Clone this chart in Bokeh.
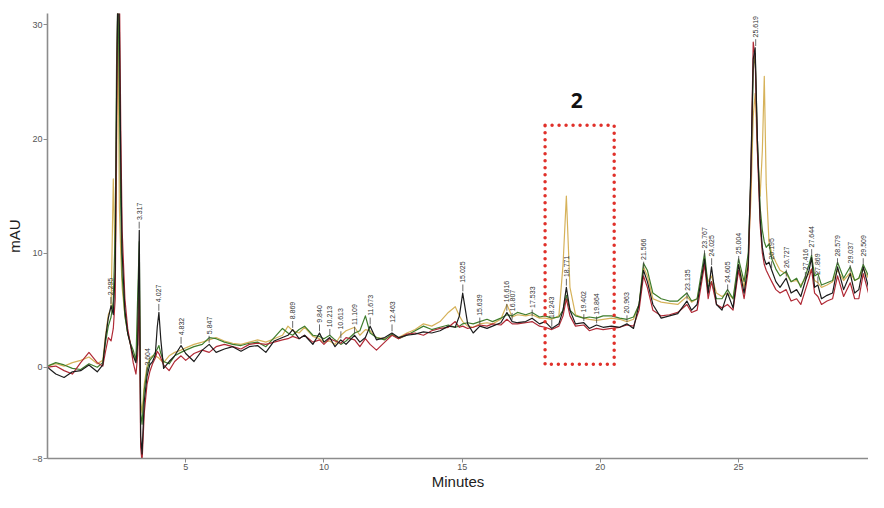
import numpy as np
from bokeh.plotting import figure
from bokeh.models import Range1d, FixedTicker, Label
from bokeh.core.properties import value
from bokeh.embed import file_html
from bokeh.resources import INLINE

# ---------------- data ----------------
minutes = [
    0.0, 0.3, 0.6, 0.9, 1.2, 1.5, 1.8, 2.0, 2.1, 2.2,
    2.3, 2.38, 2.45, 2.5, 2.55, 2.6, 2.65, 2.7, 2.8, 2.9,
    3.0, 3.1, 3.2, 3.26, 3.32, 3.37, 3.42, 3.5, 3.6, 3.7,
    3.8, 3.9, 3.97, 4.03, 4.1, 4.2, 4.4, 4.6, 4.83, 5.0,
    5.3, 5.6, 5.85, 6.1, 6.4, 6.7, 7.0, 7.3, 7.6, 7.9,
    8.2, 8.5, 8.7, 8.87, 9.1, 9.3, 9.6, 9.84, 10.0, 10.21,
    10.4, 10.61, 10.8, 11.11, 11.3, 11.5, 11.67, 11.9, 12.2, 12.46,
    12.7, 13.0, 13.3, 13.6, 13.9, 14.2, 14.5, 14.75, 14.9, 15.02,
    15.2, 15.4, 15.64, 15.9, 16.1, 16.4, 16.62, 16.81, 17.0, 17.3,
    17.53, 17.8, 18.0, 18.24, 18.5, 18.65, 18.77, 18.9, 19.1, 19.4,
    19.6, 19.86, 20.1, 20.4, 20.7, 20.96, 21.2, 21.4, 21.56, 21.7,
    21.9, 22.2, 22.5, 22.8, 23.13, 23.3, 23.5, 23.77, 23.9, 24.02,
    24.2, 24.4, 24.6, 24.8, 25.0, 25.2, 25.35, 25.45, 25.53, 25.6,
    25.68, 25.78, 25.86, 25.93, 26.0, 26.1, 26.2, 26.35, 26.5, 26.72,
    26.9, 27.1, 27.25, 27.42, 27.55, 27.64, 27.75, 27.87, 28.0, 28.2,
    28.4, 28.58, 28.8, 29.04, 29.2, 29.35, 29.51, 29.7, 29.9,
]

black_trace = [
    0.0, -0.6, -0.9, -0.4, -0.3, 0.2, -0.4, 0.2, 2.6, 4.3,
    5.4, 4.6, 8.5, 24.0, 34.0, 30.0, 18.0, 10.0, 5.0, 3.0,
    2.0, 1.0, 0.4, 2.0, 12.0, -6.0, -7.6, -3.0, -0.8, 0.2,
    0.5, 1.1, 3.5, 4.8, 2.4, -0.1, 0.5, 1.0, 1.9, 1.2,
    0.5, 1.5, 2.0, 1.3, 1.6, 1.8, 1.4, 1.8, 1.9, 1.3,
    2.3, 2.6, 2.8, 3.3, 2.5, 2.8, 2.0, 3.0, 2.2, 2.6,
    1.8, 2.4, 2.0, 2.8, 2.2, 2.6, 3.6, 2.4, 2.6, 3.0,
    2.6, 2.8, 2.9, 3.1, 3.0, 3.2, 3.6, 3.5, 4.5, 6.5,
    3.8, 3.0, 3.6, 3.4, 3.6, 3.9, 4.8, 4.0, 3.9, 4.0,
    4.3, 3.8, 4.0, 3.4, 3.8, 5.0, 7.0, 5.0, 3.8, 3.9,
    3.4, 3.7, 3.5, 3.6, 3.5, 3.8, 3.4, 5.5, 8.5, 7.5,
    5.5, 4.3, 4.5, 4.7, 5.8, 5.0, 5.5, 9.5, 6.5, 8.8,
    5.5, 5.0, 6.5, 5.2, 9.0, 6.5, 9.0, 18.0, 27.0, 28.0,
    20.0, 13.0, 10.5, 9.5, 9.0, 9.2, 8.5, 7.5, 7.0, 7.8,
    6.5, 6.8, 6.2, 7.6, 8.5, 9.6, 7.0, 7.2, 6.0, 6.3,
    6.5, 8.8, 6.8, 8.2, 6.5, 6.8, 8.8, 7.0, 6.8,
]

red_trace = [
    0.0, 0.1, -0.3, -0.6, 0.4, 1.3, 0.4, 0.1, 1.4, 2.6,
    2.3, 3.4, 6.0, 22.0, 34.0, 34.0, 21.0, 12.0, 6.0, 3.4,
    2.0, 0.4, -0.6, 1.0, 6.0, -7.0, -8.3, -4.0, -1.5, -0.4,
    0.3, 0.8, 1.4, 1.2, 0.8, 0.2, -0.3, 0.5, 1.0, 0.6,
    1.2, 1.5, 1.3, 1.8, 2.0, 1.8, 1.6, 2.0, 2.1, 2.0,
    2.2, 2.4, 2.5, 2.7, 2.5, 2.8, 2.2, 2.4, 2.0, 2.5,
    2.3, 2.1, 2.6, 2.4, 1.8, 2.5, 2.0, 1.5, 2.2, 2.8,
    2.5, 2.9, 3.0, 2.8, 3.2, 3.4, 3.5, 4.0, 3.5, 3.6,
    3.4, 3.5, 3.7, 3.6, 3.8, 3.7, 4.2, 3.8, 3.8, 3.9,
    4.0, 3.6, 3.5, 3.3, 3.6, 4.5, 6.0, 4.5, 3.6, 3.7,
    3.2, 3.4, 3.3, 3.4, 3.5, 3.7, 3.6, 5.0, 8.0, 7.0,
    5.0, 4.5, 4.6, 4.8, 5.5, 4.8, 5.0, 9.0, 6.0, 7.5,
    5.5, 5.2, 5.5, 5.0, 8.5, 6.0, 8.5, 17.0, 28.5, 27.0,
    19.0, 12.5, 10.0, 9.0, 8.5, 8.0, 7.5, 6.8, 6.5, 6.8,
    5.8, 6.0, 5.5, 6.8, 7.8, 8.6, 6.5, 6.2, 5.5, 5.8,
    6.0, 8.0, 6.2, 7.4, 6.0, 6.0, 8.2, 6.5, 6.3,
]

green_trace = [
    0.1, 0.4, 0.2, -0.1, -0.2, 0.3, 0.0, 0.4, 2.2, 3.6,
    4.4, 5.8, 12.0, 27.0, 33.0, 24.0, 14.0, 8.0, 4.5, 3.0,
    2.1, 1.5, 0.6, 6.0, 11.0, -4.0, -5.0, -2.0, -0.3, 0.6,
    0.9, 1.3, 1.6, 1.9, 1.2, 0.5, 0.3, 1.0, 1.3, 1.5,
    1.8, 2.0, 2.6, 2.5, 2.2, 2.0, 1.9, 2.1, 2.2, 1.8,
    2.6, 3.4, 3.0, 2.8, 3.3, 3.6, 2.8, 2.7, 2.5, 2.8,
    2.4, 2.0, 2.3, 3.0, 3.2, 4.5, 3.0, 2.6, 2.4, 2.9,
    2.5, 2.8, 3.2, 3.6, 3.3, 3.5, 3.7, 3.5, 3.6, 3.8,
    3.9, 3.8, 4.0, 4.2, 4.0, 4.3, 4.6, 4.5, 4.8, 4.6,
    4.8, 4.4, 4.5, 4.3, 4.4, 5.0, 6.3, 5.0, 4.5, 4.3,
    4.4, 4.3, 4.5, 4.5, 4.3, 4.2, 4.4, 5.5, 9.1, 8.5,
    6.5, 6.0, 5.8, 5.8, 6.5, 5.8, 6.0, 10.0, 7.0, 7.5,
    6.0, 6.0, 6.8, 6.0, 9.5, 7.5, 10.0, 17.0, 26.0, 27.5,
    20.0, 14.0, 12.0, 11.0, 10.5, 10.8, 9.5, 8.6, 8.0, 8.4,
    7.5, 7.8, 7.0, 8.0, 9.0, 9.8, 8.0, 8.2, 7.2, 7.4,
    7.6, 9.2, 7.8, 8.8, 7.6, 7.8, 9.0, 8.0, 8.2,
]

gold_trace = [
    0.1, 0.3, 0.1, 0.4, 0.6, 0.9, 0.3, 0.6, 2.8, 4.6,
    5.2, 16.5, 9.0, 18.0, 30.0, 14.0, 10.0, 7.0, 4.5, 3.0,
    2.0, 1.1, 0.5, 3.0, 8.0, -3.0, -4.0, -1.5, 0.1, 0.8,
    1.0, 1.0, 0.9, 0.8, 0.6, 0.4, 1.0, 1.3, 1.5, 1.7,
    2.0, 2.2, 2.4, 2.6, 2.3, 2.1, 2.0, 2.2, 2.4, 2.2,
    2.5, 2.8, 3.6, 3.2, 3.0, 3.5, 2.7, 2.5, 2.2, 2.3,
    2.0, 2.8, 3.2, 3.5, 2.8, 3.3, 3.2, 2.6, 2.5, 2.8,
    2.6, 3.0, 3.3, 3.8, 3.6, 4.0, 4.8, 5.3, 4.5, 4.0,
    3.6, 3.5, 3.8, 3.9, 3.8, 4.2, 5.5, 4.4, 4.6, 4.5,
    4.6, 4.3, 4.3, 4.2, 4.5, 9.0, 15.0, 7.0, 4.6, 4.3,
    4.2, 4.1, 4.2, 4.3, 4.2, 4.0, 4.2, 5.5, 8.8, 8.0,
    6.0, 5.7, 5.6, 5.5, 6.2, 5.7, 6.0, 9.0, 7.5, 8.0,
    6.5, 6.2, 6.5, 6.0, 9.0, 7.0, 9.5, 15.0, 22.0, 24.0,
    19.0, 15.0, 19.0, 25.5, 16.0, 11.0, 10.0, 9.2, 8.5, 8.2,
    7.5, 7.6, 7.2, 7.8, 8.2, 8.6, 7.6, 7.4, 7.0, 7.2,
    7.5, 8.5, 7.6, 8.3, 7.6, 7.8, 8.6, 7.8, 8.0,
]

peak_labels = [
    "2.295", "3.317", "3.604", "4.027", "4.832", "5.847", "8.869", "9.840",
    "10.213", "10.613", "11.109", "11.673", "12.463", "15.025", "15.639",
    "16.616", "16.807", "17.533", "18.243", "18.771", "19.402", "19.864",
    "20.963", "21.566", "23.135", "23.767", "24.025", "24.605", "25.004",
    "25.619", "26.195", "26.727", "27.416", "27.644", "27.869", "28.579",
    "29.037", "29.509",
]

x_ticks = [5, 10, 15, 20, 25]
y_ticks = [-8, 0, 10, 20, 30]

# highlighted region "2"
box_left, box_right, box_bottom, box_top = 18.0, 20.5, 0.25, 21.2
box_title = "2"

# ---------------- figure ----------------
p = figure(width=868, height=492, output_backend="svg", toolbar_location=None,
           x_range=Range1d(0, 29.7), y_range=Range1d(-8, 31),
           min_border_left=47, min_border_right=0, min_border_top=13,
           min_border_bottom=20)
p.outline_line_color = None
p.grid.visible = False
p.background_fill_color = "white"

for ax, ticks in ((p.xaxis, x_ticks), (p.yaxis, y_ticks)):
    ax.ticker = FixedTicker(ticks=ticks)
    ax.axis_line_color = "#8c8c8c"
    ax.axis_line_width = 1.6
    ax.major_tick_line_color = "#8c8c8c"
    ax.major_tick_in = 0
    ax.major_tick_out = 4
    ax.minor_tick_line_color = None
    ax.major_label_text_font = "Liberation Sans"
    ax.major_label_text_font_size = "9px"
    ax.major_label_text_color = "#555555"
    ax.major_label_standoff = 1
    ax.axis_label_text_font = "Liberation Sans"
    ax.axis_label_text_font_style = "normal"
    ax.axis_label_text_font_size = "15px"
    ax.axis_label_text_color = "#222222"
    ax.axis_label_standoff = 0

p.xaxis.axis_label = "Minutes"
p.yaxis.axis_label = "mAU"
p.yaxis.axis_label_standoff = 6

t = np.array(minutes)
traces = [
    (gold_trace, "#d6b25a"),
    (green_trace, "#3f7d2c"),
    (red_trace, "#b02a36"),
    (black_trace, "#1c1c1c"),
]
for ys, col in traces:
    p.line(t, ys, line_color=col, line_width=1.2, line_join="round")

# peak labels, anchored above the black (integrated) trace
blk = np.array(black_trace)
lx, ly, s0, s1 = [], [], [], []
for lab in peak_labels:
    x = float(lab)
    m = np.abs(t - x) <= 0.06
    top = max(blk[m].max() if m.any() else -99, np.interp(x, t, blk))
    lx.append(x)
    ly.append(top + 0.9)
    s0.append(top + 0.15)
    s1.append(top + 0.75)

p.segment(x0=lx, y0=s0, x1=lx, y1=s1, line_color="#444444", line_width=0.8)
p.text(x=lx, y=ly, text=peak_labels, angle=np.pi / 2,
       text_font=value("Liberation Sans"), text_font_size="7px",
       text_color="#333333", text_align="left", text_baseline="middle")

# dotted highlight box
p.quad(left=[box_left], right=[box_right], bottom=[box_bottom], top=[box_top],
       fill_color=None, line_color="#e0302a", line_width=3.5,
       line_dash="0 7", line_cap="round")
p.add_layout(Label(x=(box_left + box_right) / 2 - 0.1, y=box_top + 2.2,
                   text=box_title, text_font="Open Sans", text_font_style="bold",
                   text_font_size="21px", text_color="#111111",
                   text_align="center", text_baseline="middle"))

open("out.html", "w").write(file_html(p, INLINE))
